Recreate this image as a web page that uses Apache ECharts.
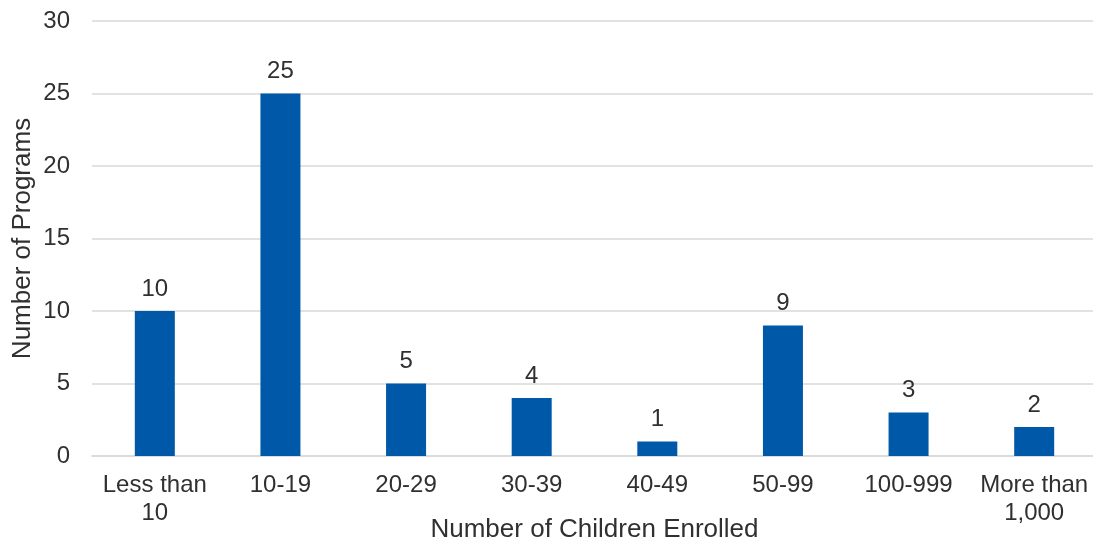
<!DOCTYPE html>
<html><head><meta charset="utf-8">
<script src="https://cdn.jsdelivr.net/npm/echarts@6/dist/echarts.min.js"></script>
<style>html,body{margin:0;padding:0;background:#fff}#c{width:1093px;height:541px}</style>
</head><body><div id="c"></div>
<script>
const categories = ["Less than\n10", "10-19", "20-29", "30-39", "40-49", "50-99", "100-999", "More than\n1,000"];
const programs = [10, 25, 5, 4, 1, 9, 3, 2];
const yTicks = [0, 5, 10, 15, 20, 25, 30];

const chart = echarts.init(document.getElementById('c'));
const txt = '#303030';
const font = 'Liberation Sans, Arial, sans-serif';
chart.setOption({
  animation: false,
  grid: { left: 92, right: -4, top: 21, bottom: 85, containLabel: false, outerBoundsMode: 'none' },
  xAxis: {
    type: 'category', data: categories,
    name: 'Number of Children Enrolled', nameLocation: 'middle', nameGap: 61, nameMoveOverlap: false,
    nameTextStyle: { color: txt, fontSize: 26, fontFamily: font },
    axisLine: { lineStyle: { color: '#d9d9d9', width: 1.5 } },
    axisTick: { show: false },
    axisLabel: { color: txt, fontSize: 24, fontFamily: font, margin: 15, lineHeight: 28, interval: 0 }
  },
  yAxis: {
    type: 'value', min: yTicks[0], max: yTicks[yTicks.length - 1], interval: 5,
    name: 'Number of Programs', nameLocation: 'middle', nameGap: 56, nameRotate: 90, nameMoveOverlap: false,
    nameTextStyle: { color: txt, fontSize: 26, fontFamily: font },
    axisLine: { show: false }, axisTick: { show: false },
    axisLabel: { color: txt, fontSize: 24, fontFamily: font, margin: 22 },
    splitLine: { lineStyle: { color: '#d9d9d9', width: 1.5 } }
  },
  series: [{
    type: 'bar', data: programs, barWidth: 40,
    itemStyle: { color: '#0058A8' },
    label: { show: true, position: 'top', distance: 10, color: txt, fontSize: 24, fontFamily: font }
  }]
});
</script></body></html>
